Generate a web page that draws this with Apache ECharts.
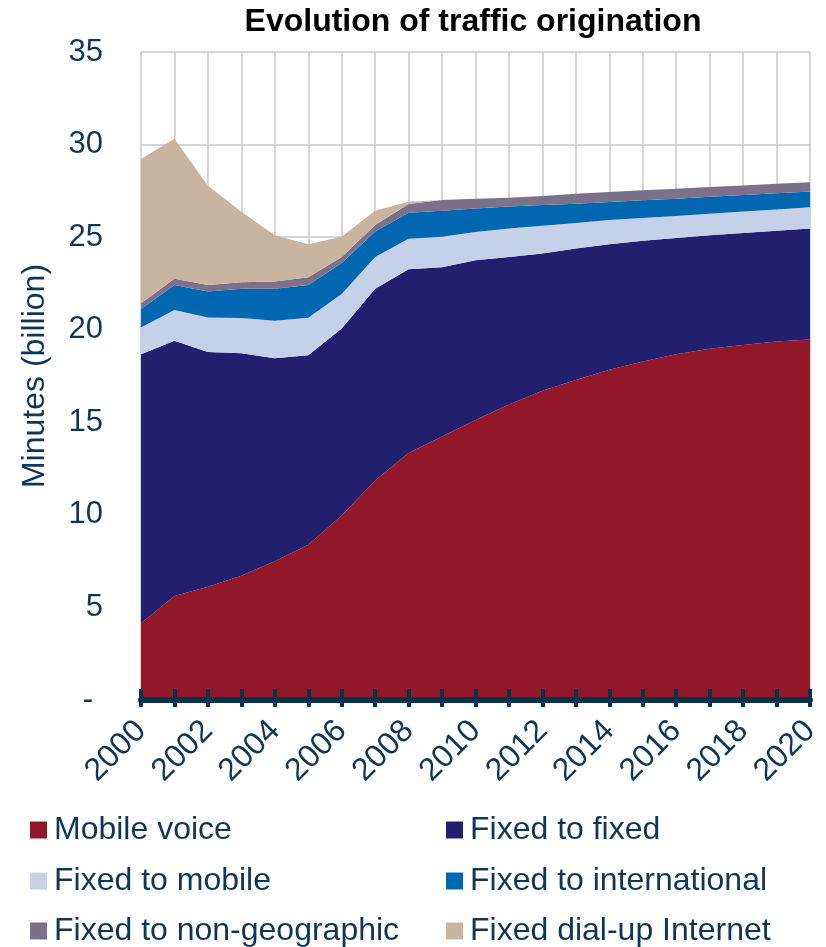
<!DOCTYPE html>
<html>
<head>
<meta charset="utf-8">
<script src="https://cdn.jsdelivr.net/npm/echarts@6/dist/echarts.min.js"></script>
<style>
html,body{margin:0;padding:0;background:#fff;}
#chart{width:826px;height:947px;}
</style>
</head>
<body>
<div id="chart"></div>
<script>
var years = ['2000','2001','2002','2003','2004','2005','2006','2007','2008','2009','2010','2011','2012','2013','2014','2015','2016','2017','2018','2019','2020'];
var mobileVoice = [4.14, 5.62, 6.12, 6.71, 7.5, 8.39, 9.97, 11.85, 13.34, 14.23, 15.12, 15.96, 16.7, 17.29, 17.84, 18.28, 18.68, 18.97, 19.17, 19.37, 19.47];
var fixedToFixed = [14.54, 13.78, 12.68, 12.02, 10.96, 10.23, 10.09, 10.36, 9.92, 9.15, 8.63, 7.97, 7.42, 7.09, 6.77, 6.53, 6.28, 6.13, 6.05, 5.98, 6.0];
var fixedToMobile = [1.44, 1.67, 1.86, 1.9, 2.03, 2.03, 1.87, 1.72, 1.65, 1.64, 1.53, 1.54, 1.49, 1.38, 1.31, 1.22, 1.18, 1.16, 1.16, 1.14, 1.14];
var fixedToInternational = [1.0, 1.35, 1.4, 1.58, 1.72, 1.77, 1.67, 1.37, 1.41, 1.41, 1.27, 1.18, 1.13, 1.05, 0.98, 0.96, 0.94, 0.92, 0.89, 0.88, 0.85];
var fixedToNonGeo = [0.31, 0.33, 0.36, 0.36, 0.39, 0.42, 0.33, 0.35, 0.47, 0.57, 0.52, 0.48, 0.48, 0.54, 0.54, 0.54, 0.54, 0.53, 0.52, 0.51, 0.5];
var fixedDialUp = [7.79, 7.57, 5.35, 3.8, 2.5, 1.77, 1.09, 0.78, 0.12, 0, 0, 0, 0, 0, 0, 0, 0, 0, 0, 0, 0];
var yTicks = [0, 5, 10, 15, 20, 25, 30, 35];

var seriesNames = ['Mobile voice','Fixed to fixed','Fixed to mobile','Fixed to international','Fixed to non-geographic','Fixed dial-up Internet'];
var seriesData = [mobileVoice, fixedToFixed, fixedToMobile, fixedToInternational, fixedToNonGeo, fixedDialUp];
var colors = ['#911729','#221F6F','#C5D0E9','#0067B0','#7B7189','#C8B49F'];

var txt = '#0F3658';
var font = 'Liberation Sans, Arial, sans-serif';

var legendPos = [
  {left: 30, top: 813}, {left: 446, top: 813},
  {left: 30, top: 864}, {left: 446, top: 864},
  {left: 30, top: 914}, {left: 446, top: 914}
];
var legends = seriesNames.map(function(n, i){
  return {
    data: [n], left: legendPos[i].left, top: legendPos[i].top,
    icon: 'rect', itemWidth: 17, itemHeight: 17, padding: 0,
    textStyle: {color: txt, fontSize: 32, fontFamily: font, lineHeight: 34, padding: [0, 0, 0, 2]}
  };
});

var chart = echarts.init(document.getElementById('chart'), null, {renderer: 'canvas'});
chart.setOption({
  animation: false,
  color: colors,
  title: {
    text: 'Evolution of traffic origination',
    left: 468, top: 1, textAlign: 'center',
    textStyle: {color: '#000', fontSize: 32, fontWeight: 'bold', fontFamily: font}
  },
  legend: legends,
  grid: {left: 141, right: 16, top: 52, bottom: 247, containLabel: false},
  xAxis: [{
    type: 'category', data: years, boundaryGap: false,
    axisLine: {show: false},
    axisTick: {show: false},
    axisLabel: {interval: 1, rotate: 45, margin: 26, color: txt, fontSize: 32, fontFamily: font},
    splitLine: {show: true, interval: 0, lineStyle: {color: '#C8C8C8', width: 1.5}},
    z: 0
  }, {
    type: 'category', data: years, boundaryGap: false, position: 'bottom',
    axisLine: {show: true, lineStyle: {color: '#0B304D', width: 6}},
    axisTick: {show: true, interval: 0, length: 7, lineStyle: {color: '#0B304D', width: 4}},
    axisLabel: {show: false},
    splitLine: {show: false},
    z: 10
  }, {
    type: 'category', data: years, boundaryGap: false, position: 'bottom',
    axisLine: {show: false},
    axisTick: {show: true, inside: true, interval: 0, length: 11, lineStyle: {color: '#0B304D', width: 4}},
    axisLabel: {show: false},
    splitLine: {show: false},
    z: 10
  }],
  yAxis: {
    type: 'value', min: 0, max: 35, interval: 5,
    name: 'Minutes (billion)', nameLocation: 'middle', nameGap: 90, nameRotate: 90,
    nameTextStyle: {color: txt, fontSize: 32, fontFamily: font},
    axisLine: {show: false}, axisTick: {show: false},
    axisLabel: {
      margin: 38, color: txt, fontSize: 31, fontFamily: font,
      formatter: function(v){ return v === 0 ? '{d|-}' : String(v); },
      rich: {d: {color: txt, fontSize: 31, fontFamily: font, padding: [0, 10, 0, 0]}}
    },
    splitLine: {show: true, lineStyle: {color: '#C8C8C8', width: 1.5}},
    z: 0
  },
  series: seriesNames.map(function(n, i){
    return {
      name: n, type: 'line', stack: 'total', data: seriesData[i],
      xAxisIndex: 0,
      symbol: 'none', showSymbol: false,
      lineStyle: {width: 0},
      areaStyle: {color: colors[i], opacity: 1},
      itemStyle: {color: colors[i]},
      emphasis: {disabled: true},
      z: 2
    };
  })
});
</script>
</body>
</html>
